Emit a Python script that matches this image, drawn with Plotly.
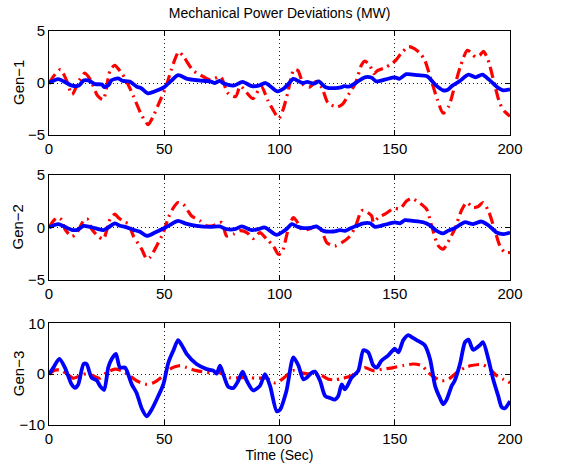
import plotly.graph_objects as go
from plotly.subplots import make_subplots

# ---------------- data ----------------
g1_red_t = [0, 2.5, 5, 7.5, 10, 13, 15.5, 18, 21, 23.5, 26.5, 28.5, 31, 33, 36.5, 40, 43, 45, 48, 50.5,
            54, 56.3, 58.5, 62.5, 67, 70, 74.5, 77.5, 81, 83, 88.5, 92, 95, 97.5, 99.7, 101.5, 103.5, 106.3,
            108, 110.5, 113, 116, 118.5, 121, 125, 127.5, 130, 133, 135.5, 137, 139, 141, 142.5, 145.5,
            148, 150.5, 153, 156, 158.5, 161, 163, 165.5, 168.5, 171, 173.5, 176, 178.5, 181.5, 183.5,
            185, 187, 188.5, 190.5, 193.5, 195.5, 197.5, 200]
g1_red_v = [0, 0.8, 1.3, 0.3, -1.1, 0.2, 0.95, 0.3, -1.2, -1.6, 1.2, 1.7, 1.1, 0.45, -1.2, -3.0, -4.0, -3.3,
            -1.8, -0.5, 1.9, 3.0, 2.5, 1.2, 0.6, 0.3, 0.6, -0.95, -1.3, -0.3, -1.5, -0.3, -1.7, -2.7, -3.4,
            -2.6, -1.0, 1.3, 1.2, -0.2, -0.4, 0.15, -0.5, -1.9, -2.3, -2.0, -1.1, 0, 1.7, 2.1, 1.75, 0.9,
            1.2, 1.45, 1.75, 2.2, 2.9, 3.5, 3.3, 2.85, 2.2, 0.5, -1.6, -2.9, -2.2, -0.3, 1.6, 3.15, 2.85,
            2.5, 2.7, 3.05, 2.2, -0.3, -1.9, -2.7, -3.2]

g1_blue_t = [0, 4, 10, 13, 15, 17, 20, 23, 24, 26, 27, 30, 32, 35, 38, 40, 43, 46, 50, 53, 56, 60, 65, 70,
             72, 74, 76, 80, 84, 88, 91, 94, 99, 102, 104, 106, 110, 112, 115, 117, 120, 124, 127, 128, 130,
             133, 137, 140, 142, 146, 150, 152, 155, 160, 164, 168, 171, 173, 175, 178, 182, 185, 188, 191,
             195, 197, 200]
g1_blue_v = [0, 0.38, -0.25, -0.25, 0.25, 0.25, -0.1, -0.15, -0.4, -0.15, 0.25, 0.45, 0.2, 0.15, -0.35, -0.5,
             -1.0, -0.8, -0.4, 0.2, 0.75, 0.4, 0.25, 0.15, 0, 0.2, -0.05, -0.25, 0.1, -0.3, -0.25, 0, -0.8,
             -0.5, -0.05, 0.4, 0, 0.1, -0.05, 0.15, -0.4, -0.5, -0.4, -0.3, -0.35, 0, 0.55, 0.5, 0.15, 0.35,
             0.55, 0.4, 0.85, 0.75, 0.65, -0.25, -0.7, -0.65, -0.25, 0.15, 0.8, 0.55, 0.8, 0.3, -0.5, -0.7,
             -0.6]

g2_red_t = [0, 1.9, 3.6, 5.5, 6.9, 9.8, 11.7, 15, 16.6, 18.5, 21.4, 23.6, 26.5, 28.6, 30, 33, 34.4, 36.6,
            40.2, 42.4, 43.8, 46.7, 49.6, 51.8, 54, 56, 58.3, 61.9, 65.5, 68.4, 71, 75, 77, 80, 83, 86,
            88.6, 91.5, 94.4, 97.3, 99.5, 101, 103.8, 106, 107.4, 109.6, 112, 116, 118.3, 120.5, 124, 127,
            130, 132.8, 135.6, 137, 140, 140.7, 142.9, 145.7, 149.4, 152.3, 155.2, 157.3, 161, 163.8, 166,
            168.9, 171, 173, 176, 178.9, 181.2, 184, 186.2, 188.3, 190.6, 193.5, 195.6, 197.8, 200]
g2_red_v = [0, 0.63, 0.95, 0.73, -0.16, -0.85, -0.63, 0.63, 0.8, -0.16, -0.85, -1.1, 0.8, 1.27, 0.95, 0.48,
            0.4, -0.8, -2.06, -3.0, -2.85, -1.75, -0.48, 0.95, 1.9, 2.38, 2.2, 1.1, 0.63, 0.16, 0.16, 0.48,
            -0.8, -0.63, -0.3, -0.5, -1.05, -0.48, -1.1, -1.75, -2.54, -2.4, -0.16, 0.95, 0.63, -0.16, -0.2,
            0.1, -0.32, -1.43, -1.75, -1.43, -0.95, 0, 1.6, 1.6, 1.1, 0.48, 0.95, 1.27, 1.8, 1.8, 2.54,
            2.76, 2.3, 1.75, 0.16, -1.75, -2.06, -1.43, -0.16, 1.6, 2.38, 1.9, 2.0, 2.38, 1.6, -0.32, -1.75,
            -2.38, -2.38]

g2_blue_t = [0, 4, 9.8, 12.3, 15, 17.8, 20.7, 23.6, 25.7, 28.6, 30.8, 33, 36.6, 39.5, 42.4, 46, 49.6, 52.5,
             56, 59, 64, 70, 74, 77, 80.7, 83.6, 88, 90.8, 93.7, 98.8, 103, 105.3, 108, 110.3, 114, 116, 119,
             123.4, 126.2, 128.4, 130.6, 133.5, 136.4, 139.3, 141.4, 145, 150, 152.3, 154.4, 158, 162.4,
             165.3, 168.2, 171, 173, 176, 180.3, 184, 187.6, 190.6, 194.2, 197, 200]
g2_blue_v = [0, 0.32, -0.22, -0.22, 0.16, 0.06, -0.1, -0.25, 0, 0.4, 0.16, 0.06, -0.22, -0.4, -0.8, -0.48,
             -0.1, 0.25, 0.63, 0.4, 0.16, 0.06, 0.1, -0.16, -0.16, 0.1, -0.25, -0.16, 0, -0.7, -0.16, 0.32,
             0.06, -0.06, 0, 0.1, -0.32, -0.38, -0.25, -0.32, -0.1, 0.16, 0.4, 0.4, 0.06, 0.22, 0.48, 0.4,
             0.7, 0.63, 0.5, 0.2, -0.32, -0.55, -0.32, -0.06, 0.5, 0.32, 0.57, 0.22, -0.48, -0.63, -0.48]

g3_red_t = [0, 2.6, 4.8, 7.7, 10.6, 13.5, 16.3, 20, 22, 25, 28.6, 31.5, 35, 38, 42.4, 45.3, 49.6, 52.5,
            56.8, 59.7, 64, 70, 74, 78.5, 82.9, 86.5, 90, 94.4, 98, 100.2, 103, 106, 108.9, 113, 117.6,
            121.2, 124, 127.7, 131.3, 134.2, 137, 140.7, 145, 149.4, 153.7, 158, 161.7, 164.6, 167.5,
            170.4, 173.3, 176.9, 180.5, 183.3, 187.6, 190.6, 194.2, 197, 200]
g3_red_v = [0, 0.8, 0.8, 0.1, -0.8, -0.3, 0.1, -0.5, -0.8, 0.3, 1.0, 0.7, -0.3, -1.3, -2.0, -1.7, -0.3, 1.0,
            1.7, 1.3, 0.7, 0.3, 0.3, -0.7, -0.7, -0.7, -0.8, -0.8, -1.7, -1.3, -0.3, 0.7, 0.3, 0, -0.1, -1.0,
            -1.1, -0.8, -0.3, 0.7, 1.3, 0.7, 1.0, 1.3, 1.7, 2.0, 1.7, 0.3, -0.7, -1.3, -1.0, 0.3, 1.3, 1.7,
            1.9, 1.3, -0.3, -1.0, -1.7]

g3_blue_t = [0, 1.9, 4.5, 6.9, 9.8, 11.3, 12.7, 15, 16.3, 18.5, 20.7, 22.1, 23.9, 25.7, 27.2, 29, 30.8, 33,
             35.9, 38, 40.2, 42.4, 44.5, 47.4, 49.6, 51.8, 54, 56, 57.6, 59.7, 64, 68.4, 71.3, 72.7, 74.2,
             75.6, 77.8, 80, 82.1, 84, 85.8, 88.6, 91.5, 93.7, 95.9, 98.8, 100.2, 103, 106, 108.2, 110.3,
             111.8, 114, 115.4, 117.6, 119.8, 122, 124, 125.5, 127, 128.4, 131.3, 134.2, 136.4, 138.5, 140.7,
             142.2, 144.3, 147.2, 150, 151.6, 153.7, 155.9, 157.3, 159.5, 163, 165.3, 167.5, 169.6, 171,
             172.5, 174.7, 176, 178.3, 180.5, 182, 184, 186.9, 188.3, 190.6, 192.7, 194.9, 196.4, 197.8, 200]
g3_blue_v = [0, 1.3, 3.0, 1.3, -2.0, -2.7, -2.0, 2.0, 2.0, -0.7, -1.2, -2.3, -3.1, 1.3, 3.0, 4.0, 1.3, 1.3,
             -2.0, -3.7, -6.7, -8.3, -7.0, -4.3, -2.0, 2.3, 4.7, 6.7, 5.7, 4.0, 2.0, 1.0, 0.7, 0.1, 1.7, 0,
             -2.5, -2.7, -1.3, 0.5, -1.3, -3.2, -2.3, 0, -2.3, -7.3, -7.0, -3.3, 3.3, 1.7, -1.0, -0.7, 0.3,
             0.5, -1.3, -4.3, -4.7, -5.0, -4.3, -2.0, -3.0, -0.7, 0.7, 4.7, 4.3, 1.7, 1.3, 2.7, 3.7, 5.0, 4.3,
             6.7, 7.7, 7.3, 6.7, 5.7, 3.0, -2.3, -4.7, -5.9, -5.0, -2.3, -1.3, 2.0, 6.3, 6.8, 4.8, 5.7, 6.3,
             3.0, -1.0, -4.3, -6.5, -6.7, -5.3]

x_ticks = [0, 50, 100, 150, 200]
y_labels = ["Gen\u22121", "Gen\u22122", "Gen\u22123"]
y_ranges = [[-5, 5], [-5, 5], [-10, 10]]
y_ticks = [[-5, 0, 5], [-5, 0, 5], [-10, 0, 10]]
title_text = "Mechanical Power Deviations (MW)"
x_title = "Time (Sec)"

series = [
    (g1_red_t, g1_red_v, g1_blue_t, g1_blue_v),
    (g2_red_t, g2_red_v, g2_blue_t, g2_blue_v),
    (g3_red_t, g3_red_v, g3_blue_t, g3_blue_v),
]

# ---------------- figure ----------------
FONT = "Liberation Sans, Arial, Helvetica, sans-serif"
fig = make_subplots(rows=3, cols=1)

for i, (rt, rv, bt, bv) in enumerate(series, start=1):
    fig.add_trace(go.Scatter(x=rt, y=rv, mode="lines",
                             line=dict(color="#ff0000", width=3.2, dash="11px,5px,2px,5px",
                                       shape="spline", smoothing=0.7),
                             showlegend=False, hoverinfo="skip"), row=i, col=1)
    fig.add_trace(go.Scatter(x=bt, y=bv, mode="lines",
                             line=dict(color="#0000ff", width=3.8, shape="spline", smoothing=0.7),
                             showlegend=False, hoverinfo="skip"), row=i, col=1)

domains = [[0.736, 1.0], [0.368, 0.6345], [0.0, 0.258]]
axis_common = dict(showline=True, linecolor="black", linewidth=1, mirror="ticks",
                   ticks="inside", ticklen=5, tickcolor="black", tickwidth=1,
                   showgrid=True, gridcolor="#222222", gridwidth=1, griddash="1px,3px",
                   zeroline=False, tickfont=dict(family=FONT, size=15, color="black"))

plot_w = 566 - 49 - 56
for i in range(3):
    xa = "xaxis" if i == 0 else f"xaxis{i+1}"
    ya = "yaxis" if i == 0 else f"yaxis{i+1}"
    fig.layout[xa].update(range=[0, 200], tickvals=x_ticks, domain=[0, 1], **axis_common)
    fig.layout[ya].update(range=y_ranges[i], tickvals=y_ticks[i], domain=domains[i], **axis_common)
    fig.add_annotation(text=y_labels[i], xref="paper", yref="paper",
                       x=(18 - 49) / plot_w, y=(domains[i][0] + domains[i][1]) / 2,
                       xanchor="center", yanchor="middle", textangle=-90, showarrow=False,
                       font=dict(family=FONT, size=15, color="black"))

fig.layout.xaxis3.title = dict(text=x_title, font=dict(family=FONT, size=14, color="black"), standoff=3)

fig.update_layout(
    width=566, height=468,
    margin=dict(l=49, r=56, t=31, b=43, autoexpand=False),
    paper_bgcolor="white", plot_bgcolor="white",
    title=dict(text=title_text, x=0.494, xanchor="center", y=1 - 13 / 468, yanchor="middle",
               yref="container", xref="container",
               font=dict(family=FONT, size=14, color="black")),
    font=dict(family=FONT, color="black"),
)

fig.write_html("out.html")
